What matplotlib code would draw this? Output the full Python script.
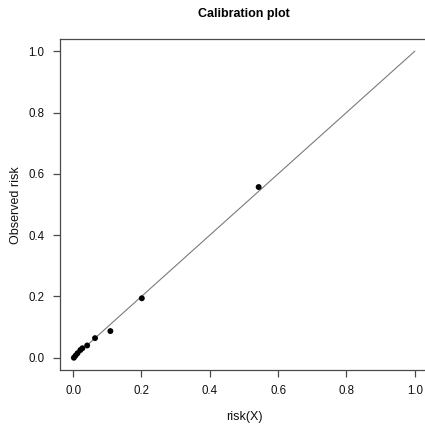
import matplotlib
matplotlib.use("Agg")
import matplotlib.pyplot as plt
import numpy as np

plt.rcParams['font.family'] = ['Liberation Sans', 'DejaVu Sans']

predicted = [0.002, 0.007, 0.013, 0.021, 0.027, 0.041, 0.064, 0.109, 0.201, 0.543]
observed = [0.000, 0.007, 0.015, 0.025, 0.031, 0.040, 0.064, 0.087, 0.194, 0.557]
ticks = [0.0, 0.2, 0.4, 0.6, 0.8, 1.0]
tick_labels = ["0.0", "0.2", "0.4", "0.6", "0.8", "1.0"]
diag = [0.0, 1.0]

W = H = 425
fig = plt.figure(figsize=(W / 100, H / 100), dpi=100)
left, right, top, bottom = 59.5, 428.4, 39, 370
ax = fig.add_axes([left / W, 1 - bottom / H, (right - left) / W, (bottom - top) / H])
ax.set_xlim(-0.04, 1.04)
ax.set_ylim(-0.04, 1.04)

axc = '#4a4a4a'
ax.plot(diag, diag, color='#7a7a7a', lw=0.8, zorder=2)
ax.scatter(predicted, observed, s=18, color='black', edgecolors='none', zorder=3)

for s in ax.spines.values():
    s.set_color(axc)
    s.set_linewidth(0.9)

ax.set_xticks(ticks)
ax.set_xticklabels(tick_labels)
ax.set_yticks(ticks)
ax.set_yticklabels(tick_labels)
ax.tick_params(axis='both', length=5, width=0.9, color=axc, labelsize=8.3, labelcolor='#111111', pad=6)

fig.text(244 / W, 1 - 417 / H, 'risk(X)', ha='center', va='center', fontsize=9, color='#111111')
fig.text(16 / W, 1 - 205 / H, 'Observed risk', ha='center', va='center', rotation=90, fontsize=9, color='#111111')
fig.text(244 / W, 1 - 14 / H, 'Calibration plot', ha='center', va='center', fontsize=9, fontweight='bold')

fig.savefig('out.png', dpi=100)
